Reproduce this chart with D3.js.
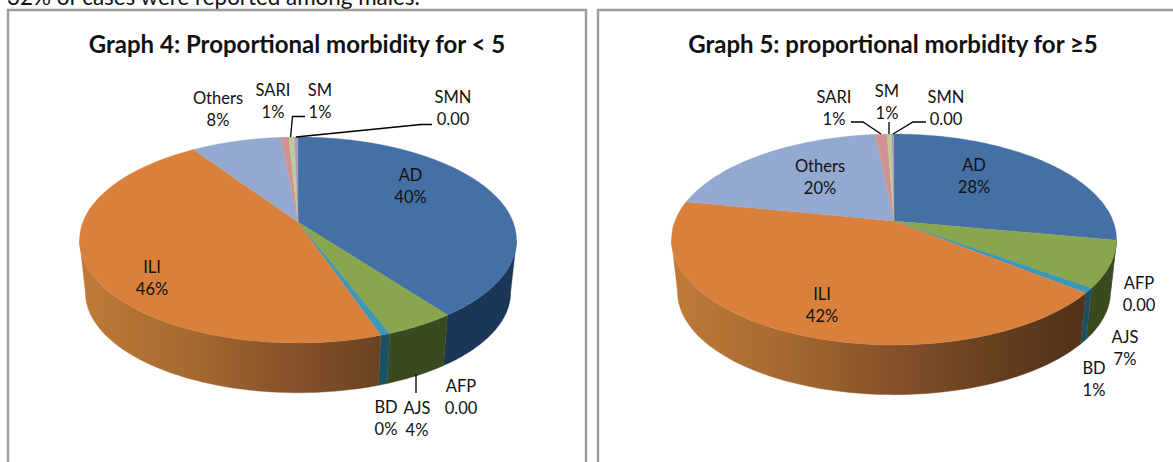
<!DOCTYPE html>
<html><head><meta charset="utf-8">
<script src="https://cdn.jsdelivr.net/npm/d3@7"></script>
<style>html,body{margin:0;padding:0;background:#fff;overflow:hidden}svg{display:block}text{font-family:Lato,"Open Sans",sans-serif;fill:#111}</style>
</head><body><svg id="c" width="1173" height="462"></svg>
<script>
const categories = ["AD","AFP","AJS","BD","ILI","Others","SARI","SM","SMN"];
const valuesUnder5 = [39.8,0.0,4.4,0.6,45.8,7.9,0.7,0.5,0.3];
const valuesOver5  = [27.9,0.0,7.1,0.8,42.3,20.3,1.0,0.4,0.2];
const textUnder5 = ["40%","0.00","4%","0%","46%","8%","1%","1%","0.00"];
const textOver5  = ["28%","0.00","7%","1%","42%","20%","1%","1%","0.00"];
const titleUnder5 = "Graph 4: Proportional morbidity for < 5";
const titleOver5 = "Graph 5: proportional morbidity for ≥5";
const caption = "32% of cases were reported among males.";

const topColors  = ["#4570a5","#89a54e","#89a54e","#3f97b3","#d9813c","#93a9cf","#d09392","#b9cd96","#a99bbd"];
const sideColors = ["#1b3659","#3a4a1f","#3a4a1f","#1b5064",null,"#6b7da0","#8f5f5e","#7f8f60","#6e6280"];

const svg = d3.select("#c");
const defs = svg.append("defs");

svg.append("text").attr("x",7).attr("y",5).attr("font-size",22.4).text(caption);

const charts = [
 { id:"g4", frame:[8,10,586], title:titleUnder5, titleX:297, values:valuesUnder5, text:textUnder5,
   hub:[298,222], up:85, down:121, halfWidth:218.5, depth:53, shrink:0.973,
   labels:{AD:[410.5,175],AFP:[461,386],AJS:[417,408],BD:[386,407],ILI:[152,267],Others:[218,98],SARI:[273,90],SM:[320,90],SMN:[453,97]},
   leaders:[[[290.6,137],[292.5,116.5],[305,116.5]],[[296,137],[421,124.5],[432,124.5]],[[416,374],[416,393]]] },
 { id:"g5", frame:[598,10,1180], title:titleOver5, titleX:893, values:valuesOver5, text:textOver5,
   hub:[894,221], up:87, down:124, halfWidth:222.5, depth:53, shrink:0.973,
   labels:{AD:[974,165],AFP:[1139,283],AJS:[1125,337],BD:[1094,368],ILI:[822,294],Others:[820,166],SARI:[834,97],SM:[887,91],SMN:[946,97]},
   leaders:[[[851,122],[863,122],[881,134]],[[889,122],[889,134]],[[926,122],[913,122],[893,134]]] }
];

const line = d3.line();
charts.forEach(ch=>{
  const g = svg.append("g");
  const [fx,fy,fr] = ch.frame;
  g.append("path").attr("d",line([[fx,470],[fx,fy],[fr,fy],[fr,470]]))
    .attr("fill","#fff").attr("stroke","#9d9d9d").attr("stroke-width",2.4);
  g.append("text").attr("x",ch.titleX).attr("y",53).attr("text-anchor","middle")
    .attr("font-size",24).attr("font-weight",700).attr("fill","#000").text(ch.title);

  // perspective projection of the pie's circle onto the page
  const c = (ch.down-ch.up)/(ch.down+ch.up);
  const a = ch.up*(1+c);
  const k = ch.halfWidth*Math.sqrt(1-c*c);
  const project = (t,s=1,dy=0)=>{
    const u=Math.sin(t), v=Math.cos(t), w=1+c*v;
    return [ch.hub[0]+s*k*u/w, ch.hub[1]-s*a*v/w+dy];
  };
  const arcs = d3.pie().sort(null).value(d=>d)(ch.values);
  const sample=(t0,t1)=>d3.range(0,61).map(i=>t0+(t1-t0)*i/60);

  // orange wall shading
  const gid="wall-"+ch.id;
  const gr=defs.append("linearGradient").attr("id",gid).attr("gradientUnits","userSpaceOnUse")
    .attr("x1",ch.hub[0]-ch.halfWidth).attr("x2",ch.hub[0]+ch.halfWidth).attr("y1",0).attr("y2",0);
  [[0,"#c07a38"],[0.25,"#a66a31"],[0.5,"#85512a"],[0.72,"#66401f"],[0.9,"#55321a"],[1,"#50301a"]]
    .forEach(([o,col])=>gr.append("stop").attr("offset",o).attr("stop-color",col));

  // walls: the front part of the rim, between the two silhouette tangents
  const lo=Math.acos(-c), hi=2*Math.PI-lo;
  arcs.forEach((d,i)=>{
    const t0=Math.max(d.startAngle,lo), t1=Math.min(d.endAngle,hi);
    if(t1<=t0) return;
    const ts=sample(t0,t1);
    const pts=ts.map(t=>project(t)).concat(ts.slice().reverse().map(t=>project(t,ch.shrink,ch.depth)));
    g.append("path").attr("d",line(pts)+"Z")
      .attr("fill",sideColors[i]||`url(#${gid})`)
      .attr("stroke",sideColors[i]||`url(#${gid})`).attr("stroke-width",0.4);
  });
  // top face
  arcs.forEach((d,i)=>{
    if(d.endAngle-d.startAngle<=0) return;
    const pts=[ch.hub].concat(sample(d.startAngle,d.endAngle).map(t=>project(t)));
    g.append("path").attr("d",line(pts)+"Z").attr("fill",topColors[i])
      .attr("stroke",topColors[i]).attr("stroke-width",0.3);
  });
  // leader lines
  ch.leaders.forEach(l=>g.append("path").attr("d",line(l)).attr("fill","none").attr("stroke","#000").attr("stroke-width",1.3));
  // labels
  categories.forEach((name,i)=>{
    const [x,y]=ch.labels[name];
    const t=g.append("text").attr("text-anchor","middle").attr("font-size",16.5);
    t.append("tspan").attr("x",x).attr("y",y+6).text(name);
    t.append("tspan").attr("x",x).attr("y",y+28).text(ch.text[i]);
  });
});
</script></body></html>
